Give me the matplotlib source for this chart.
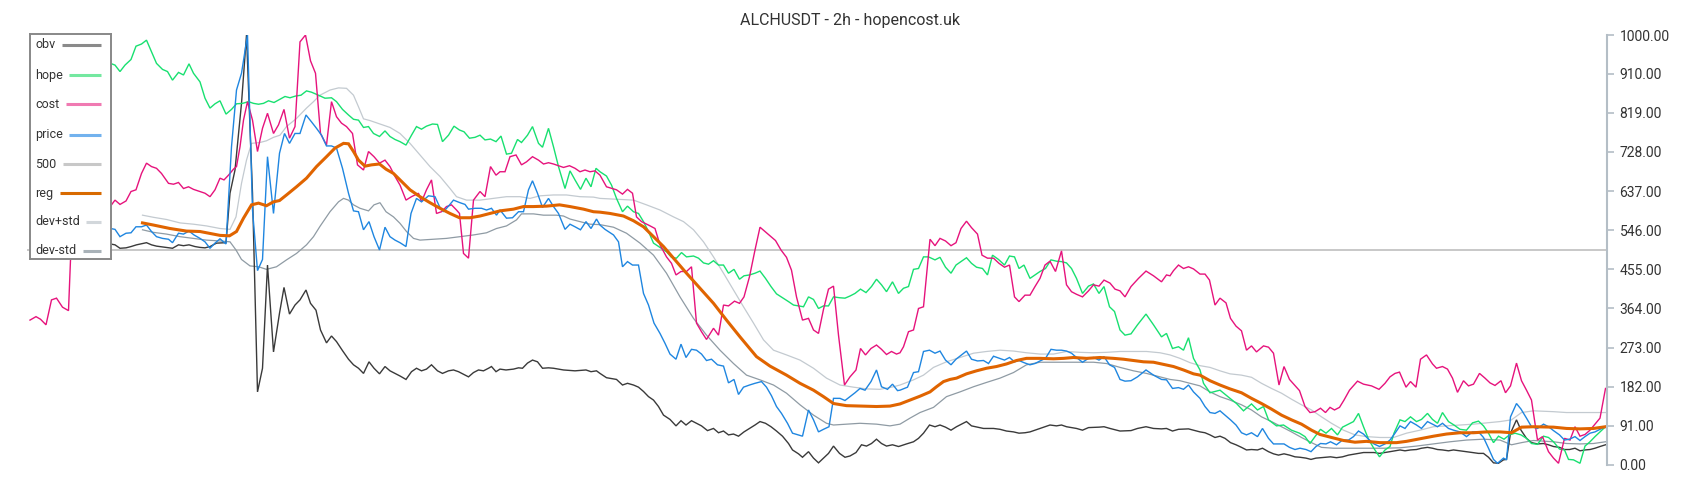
import matplotlib
matplotlib.use("Agg")
import matplotlib.pyplot as plt
import numpy as np

plt.rcParams['font.family'] = ['Roboto', 'DejaVu Sans']

title = "ALCHUSDT - 2h - hopencost.uk"
level = 500
yticks = [0, 91, 182, 273, 364, 455, 546, 637, 728, 819, 910, 1000]

# (candle, value) pairs
cost = [(0.6,337),(1.8,345),(2.7,339),(3.8,326),(4.9,384),(5.9,388),(7.1,367),(8.3,359),(8.7,477),(17.6,616),(18.6,606),(19.8,614),(20.8,636),(21.8,640),(22.9,678),(23.9,702),(24.9,694),(25.9,690),(26.9,678),(28.3,655),(29.3,653),(30.3,657),(31.3,643),(32.3,647),(33.3,641),(34.6,636),(35.6,632),(36.6,624),(37.6,640),(38.6,667),(39.4,663),(40.3,674),(41.3,688),(41.9,694),(42.6,740),(43.3,802),(44.1,845),(45.1,802),(46.1,729),(47.1,783),(48.1,818),(49.3,771),(50.3,791),(51.4,827),(52.5,760),(53.6,787),(54.6,984),(55.7,1000),(56.7,940),(57.7,911),(58.7,771),(59.9,744),(60.9,845),(61.9,810),(62.9,795),(63.9,787),(65.1,771),(66.1,698),(67.3,686),(68.3,729),(69.4,717),(70.5,702),(71.6,709),(72.6,694),(73.6,671),(74.6,651),(75.8,616),(76.9,624),(78.3,632),(78.9,612),(79.9,640),(80.9,663),(81.9,585),(82.9,589),(83.9,601),(84.9,605),(85.9,593),(86.5,585),(87.3,492),(88.3,481),(89.3,616),(90.6,636),(91.6,624),(92.7,694),(93.8,674),(94.6,682),(95.6,682),(96.6,717),(97.8,721),(98.9,698),(99.9,705),(101.1,717),(102.3,709),(103.3,700),(104.3,703),(105.3,700),(106.3,696),(107.3,692),(108.5,696),(109.6,690),(110.6,682),(111.6,686),(112.6,682),(113.6,684),(114.6,674),(115.9,647),(117.9,640),(119.1,630),(120.1,641),(121.1,632),(121.9,577),(122.9,566),(124.3,558),(125.6,550),(126.6,512),(127.9,484),(128.9,469),(129.8,442),(130.8,450),(131.9,450),(132.9,461),(133.9,330),(134.9,310),(135.9,292),(137.3,318),(138.3,302),(139.3,372),(140.3,370),(141.5,381),(142.5,376),(143.4,391),(144.5,438),(145.6,500),(146.6,553),(147.6,543),(148.6,533),(149.7,522),(150.8,500),(151.9,483),(152.9,453),(153.9,391),(155.1,337),(156.3,341),(157.3,314),(158.3,306),(159.3,362),(160.3,409),(161.3,416),(162.3,302),(163.5,186),(164.6,205),(165.8,221),(166.7,271),(167.7,256),(168.8,271),(169.9,279),(170.9,269),(171.9,257),(172.9,264),(173.9,258),(174.6,261),(175.3,275),(176.3,310),(177.3,314),(178.3,364),(179.3,368),(180.6,525),(181.6,510),(182.6,527),(183.7,521),(184.8,510),(185.8,517),(186.8,550),(187.9,567),(188.9,552),(190.1,537),(191.0,488),(192.1,481),(193.3,481),(194.4,469),(195.5,460),(196.5,465),(197.5,391),(198.4,380),(199.6,395),(200.6,395),(201.6,415),(202.6,434),(203.6,465),(204.6,474),(205.7,450),(206.9,498),(207.9,419),(208.9,403),(209.9,397),(211.1,391),(212.3,405),(213.3,419),(214.4,416),(215.4,430),(216.6,423),(217.6,409),(218.6,405),(219.6,391),(220.8,415),(222.3,434),(223.8,451),(225.3,440),(226.9,426),(227.9,442),(228.6,440),(229.3,452),(230.3,465),(231.3,457),(232.3,461),(233.3,456),(234.6,444),(235.6,444),(236.5,430),(237.6,372),(238.6,388),(239.8,377),(240.7,341),(241.8,323),(242.9,312),(243.9,267),(244.9,277),(245.9,263),(247.3,277),(248.3,274),(249.3,260),(250.4,186),(251.4,229),(252.5,199),(253.5,186),(254.5,173),(255.6,136),(256.6,122),(257.6,124),(258.7,132),(259.7,122),(260.6,134),(261.5,128),(262.5,134),(263.4,151),(264.5,174),(266.1,195),(267.3,188),(268.9,184),(270.4,176),(271.6,190),(272.6,205),(273.6,213),(274.5,216),(275.8,181),(276.7,194),(277.8,181),(278.7,246),(279.9,256),(281.1,235),(281.9,225),(283.1,229),(284.1,223),(285.1,202),(286.1,169),(287.3,196),(288.3,184),(289.3,188),(290.5,213),(291.6,202),(292.6,191),(293.6,185),(294.8,196),(295.7,168),(296.7,184),(297.9,237),(298.9,196),(299.9,174),(300.9,151),(302.1,58),(303.1,66),(304.3,31),(305.3,16),(306.3,4),(307.5,62),(308.6,58),(309.6,89),(310.6,67),(311.6,71),(312.6,81),(313.6,95),(314.6,109),(315.7,178)]

hope = [(16.7,934),(17.6,930),(18.6,915),(19.6,930),(20.8,943),(21.8,974),(22.9,979),(23.9,988),(24.9,961),(25.9,934),(27.1,920),(28.1,915),(29.1,895),(30.3,913),(31.3,907),(32.4,933),(33.3,911),(34.6,891),(35.6,853),(36.6,830),(37.6,840),(38.6,847),(39.8,816),(40.9,827),(41.9,840),(43.1,841),(44.3,845),(45.3,841),(46.3,839),(47.3,841),(48.3,847),(49.4,843),(50.5,850),(51.6,857),(52.6,854),(53.7,858),(54.8,860),(55.9,870),(56.9,867),(58.3,860),(59.6,853),(60.9,854),(61.9,845),(63.1,827),(64.3,814),(65.3,804),(66.3,802),(67.3,785),(68.3,787),(69.3,771),(70.5,764),(71.6,777),(72.6,764),(73.6,757),(74.6,752),(75.8,744),(76.9,767),(77.9,787),(78.9,781),(79.9,788),(81.1,793),(82.1,792),(83.1,752),(84.3,767),(85.4,788),(86.5,779),(87.4,775),(88.5,760),(89.6,762),(90.6,767),(91.6,756),(92.7,758),(93.8,752),(94.8,765),(95.9,723),(96.9,725),(98.1,757),(98.9,750),(100.1,767),(101.1,787),(102.3,748),(103.1,739),(104.3,783),(105.3,740),(106.3,694),(107.6,643),(108.6,684),(109.6,663),(110.7,641),(111.8,667),(112.8,647),(113.8,690),(114.6,682),(115.9,672),(116.9,651),(117.9,620),(119.1,589),(120.1,602),(121.3,589),(122.3,585),(123.3,566),(124.3,543),(125.3,516),(126.6,506),(127.9,496),(128.9,483),(129.9,481),(130.9,494),(131.9,484),(133.3,486),(134.3,481),(135.3,470),(136.3,467),(137.3,475),(138.3,465),(139.3,465),(140.3,446),(141.4,455),(142.5,432),(143.4,440),(144.5,442),(145.6,446),(146.6,451),(147.7,434),(148.8,415),(149.9,398),(151.1,389),(152.3,380),(153.3,372),(154.3,370),(155.3,368),(156.3,391),(157.3,385),(158.3,364),(159.3,370),(160.3,370),(161.3,391),(162.5,389),(163.6,388),(164.6,393),(165.6,399),(166.7,409),(167.8,401),(168.9,415),(169.9,432),(170.9,419),(171.9,403),(173.1,426),(174.3,399),(175.3,411),(176.3,415),(177.3,455),(178.3,457),(179.3,484),(180.3,484),(181.6,477),(182.6,483),(183.7,460),(184.8,446),(185.8,465),(187.9,482),(188.9,469),(189.9,460),(191.1,457),(192.1,442),(193.1,488),(194.3,478),(195.5,465),(196.5,486),(197.5,484),(198.4,457),(199.4,465),(200.6,434),(201.6,442),(202.6,450),(203.7,457),(204.8,477),(205.9,474),(206.9,473),(207.9,470),(208.9,457),(209.9,434),(211.1,399),(212.3,416),(213.3,421),(214.4,399),(215.4,415),(216.5,368),(217.5,357),(218.6,314),(219.6,302),(220.8,305),(222.1,326),(223.8,351),(225.3,326),(226.9,298),(227.9,306),(229.1,271),(230.3,275),(231.3,267),(232.3,296),(233.3,248),(234.6,221),(235.3,190),(236.6,168),(238.6,174),(240.6,155),(241.9,143),(243.3,126),(244.9,142),(246.1,128),(247.3,136),(248.3,105),(249.9,91),(251.3,93),(252.9,81),(254.5,74),(255.6,66),(256.6,50),(257.6,66),(258.7,83),(259.8,74),(260.9,85),(262.1,70),(263.1,88),(264.3,95),(265.3,101),(266.3,120),(267.3,89),(268.3,60),(269.3,40),(270.5,19),(271.6,35),(272.6,43),(273.4,74),(274.6,105),(275.6,101),(276.7,112),(277.9,101),(278.9,106),(280.1,120),(281.1,106),(282.1,97),(283.1,122),(284.3,101),(285.4,93),(286.6,83),(287.9,81),(289.1,98),(290.3,102),(291.3,91),(292.3,74),(293.3,52),(294.3,67),(295.4,60),(296.5,70),(297.6,74),(298.8,70),(299.9,62),(300.9,50),(302.1,48),(303.3,67),(304.3,64),(305.3,54),(306.5,37),(307.5,35),(308.3,13),(309.3,12),(310.6,4),(311.6,44),(312.6,54),(313.6,66),(314.6,77),(315.7,89)]

price = [(16.7,550),(17.6,548),(18.6,531),(19.8,539),(20.8,540),(21.8,554),(22.9,554),(23.9,558),(24.9,543),(25.9,531),(27.1,527),(28.3,525),(29.1,517),(30.3,539),(31.3,537),(32.4,544),(33.4,535),(34.6,527),(35.6,519),(36.6,504),(37.6,516),(38.6,526),(39.8,514),(40.9,740),(41.9,872),(42.9,911),(44.1,1000),(45.1,593),(46.1,452),(47.1,478),(48.1,717),(49.3,585),(50.5,725),(51.5,771),(52.5,748),(53.6,771),(54.6,771),(55.8,814),(56.9,798),(57.9,783),(58.9,767),(59.9,742),(60.9,742),(61.9,737),(63.1,690),(64.3,632),(65.3,591),(66.3,589),(67.3,547),(68.4,566),(69.4,531),(70.5,500),(71.6,553),(72.6,531),(73.6,523),(74.6,517),(75.8,508),(76.8,585),(77.9,620),(78.9,612),(80.3,626),(81.6,624),(82.5,601),(83.3,589),(84.3,602),(85.3,616),(86.6,610),(87.6,606),(88.3,595),(89.6,597),(90.9,597),(91.9,593),(92.9,597),(93.9,581),(94.6,593),(95.9,574),(97.1,575),(98.3,589),(99.3,589),(100.3,640),(101.1,661),(102.1,632),(103.1,599),(104.3,620),(105.3,601),(106.3,585),(107.6,548),(108.6,560),(109.6,554),(110.7,547),(111.8,566),(112.8,550),(113.9,572),(114.6,558),(115.6,548),(117.3,535),(118.3,519),(119.1,461),(120.1,473),(121.1,465),(122.3,465),(123.3,399),(124.3,372),(125.4,330),(126.6,306),(127.6,283),(128.6,258),(129.8,246),(130.8,281),(131.8,250),(132.9,269),(133.9,267),(134.9,258),(135.9,243),(136.9,246),(138.1,233),(139.3,230),(140.3,191),(141.4,199),(142.3,164),(143.3,181),(144.5,186),(145.6,190),(146.9,194),(147.9,181),(148.9,161),(149.9,136),(150.9,120),(152.1,97),(153.1,74),(155.1,67),(156.3,128),(157.3,105),(158.3,77),(159.3,83),(160.4,89),(161.3,155),(162.6,155),(163.6,150),(164.6,159),(165.6,168),(166.6,178),(167.6,174),(168.8,194),(169.9,221),(170.9,182),(172.1,176),(173.1,188),(174.1,173),(174.6,174),(176.1,181),(177.3,215),(178.3,217),(179.3,264),(180.5,267),(181.6,260),(182.6,265),(183.7,244),(184.8,233),(185.8,246),(187.9,265),(188.9,246),(190.1,242),(191.3,243),(192.3,236),(193.3,253),(194.5,248),(195.5,244),(196.5,250),(197.5,240),(198.4,243),(199.4,238),(200.6,233),(201.6,236),(202.6,242),(203.7,248),(204.8,269),(205.9,267),(206.9,267),(207.9,265),(208.9,260),(209.9,250),(211.1,239),(212.3,248),(213.3,250),(214.4,244),(215.4,252),(216.5,233),(217.5,227),(218.6,199),(219.6,195),(220.8,196),(222.1,205),(223.8,221),(225.3,209),(226.9,199),(227.9,198),(229.1,178),(230.3,180),(231.3,176),(232.3,186),(233.3,170),(234.6,155),(235.6,136),(236.6,122),(237.6,120),(238.6,126),(239.6,116),(240.7,105),(241.8,93),(242.9,75),(243.9,70),(244.9,75),(246.1,66),(247.1,85),(248.3,62),(249.3,49),(250.3,49),(251.4,49),(252.5,41),(253.6,36),(254.6,39),(255.8,36),(256.8,31),(257.8,43),(258.7,50),(259.8,49),(260.7,54),(261.9,47),(263.1,58),(264.3,58),(265.3,66),(266.3,79),(267.3,72),(268.3,60),(269.4,49),(270.5,43),(271.6,49),(272.6,58),(273.6,74),(274.6,91),(275.6,85),(276.7,101),(277.9,93),(278.9,85),(280.1,101),(281.1,95),(282.1,89),(283.1,97),(284.3,85),(285.3,81),(286.6,77),(287.9,66),(289.1,77),(290.3,77),(291.3,64),(292.3,39),(293.3,13),(294.1,4),(295.3,16),(295.9,12),(296.7,112),(297.9,143),(298.8,130),(299.9,109),(300.9,89),(302.1,85),(303.3,95),(304.3,89),(305.3,80),(306.5,70),(307.5,58),(308.5,60),(309.6,66),(310.6,57),(311.6,66),(312.6,74),(313.6,77),(314.6,83),(315.7,89)]

obv = [(16.7,514),(17.6,512),(18.6,504),(19.8,505),(20.8,508),(21.9,512),(23.9,517),(24.9,512),(25.9,509),(27.9,506),(29.1,504),(30.3,512),(31.3,510),(32.4,512),(33.6,508),(34.6,506),(35.6,505),(36.6,508),(37.9,516),(39.8,517),(40.6,632),(41.6,686),(42.9,841),(43.9,1000),(45.1,632),(46.1,170),(47.1,225),(48.1,465),(49.3,263),(50.5,353),(51.4,413),(52.5,351),(53.6,372),(54.6,384),(55.8,407),(56.7,376),(57.8,360),(58.7,314),(59.9,284),(60.9,300),(61.9,287),(63.1,266),(64.3,246),(65.3,233),(66.3,225),(67.3,213),(68.4,240),(69.4,225),(70.5,212),(71.6,229),(72.6,219),(73.6,213),(74.6,207),(75.8,199),(76.9,217),(77.9,225),(78.9,219),(79.9,223),(80.9,233),(82.1,219),(83.1,213),(84.3,219),(85.3,221),(86.3,217),(87.3,211),(88.3,205),(89.3,215),(90.3,221),(91.3,219),(92.3,225),(92.9,229),(93.8,217),(94.6,223),(95.8,221),(97.3,223),(98.3,226),(99.1,225),(100.1,237),(101.1,244),(102.1,240),(103.1,225),(104.3,226),(105.3,225),(107.3,221),(109.6,219),(111.8,221),(112.8,217),(113.9,219),(114.6,213),(115.9,203),(117.9,199),(119.1,186),(120.1,190),(121.3,186),(122.3,181),(123.3,171),(124.3,159),(125.3,151),(126.3,136),(127.3,116),(128.6,106),(129.8,91),(130.8,103),(131.8,93),(132.9,103),(133.9,97),(134.9,91),(136.1,80),(137.3,85),(138.3,75),(139.3,79),(140.3,70),(141.3,72),(142.3,67),(143.4,77),(144.5,85),(145.6,93),(146.6,101),(147.7,97),(148.8,89),(149.9,79),(151.1,67),(152.3,50),(153.1,35),(154.3,26),(155.1,18),(156.3,31),(157.3,16),(158.3,5),(159.3,16),(160.3,27),(161.3,44),(162.5,27),(163.6,18),(164.6,21),(165.8,29),(166.9,47),(167.9,44),(168.9,50),(169.9,60),(170.9,50),(171.9,44),(173.1,47),(174.3,43),(174.6,44),(175.9,49),(177.3,54),(178.3,62),(179.3,74),(180.5,93),(181.6,89),(182.6,93),(183.7,88),(184.8,81),(185.9,89),(187.9,101),(188.9,91),(190.1,88),(191.3,85),(193.3,85),(194.6,83),(195.9,79),(197.3,77),(198.4,74),(199.6,75),(200.6,77),(202.6,85),(204.6,93),(205.9,91),(206.9,93),(207.9,89),(209.9,85),(211.1,81),(212.3,87),(214.4,88),(215.4,89),(216.6,85),(218.6,79),(220.8,80),(222.1,85),(223.8,89),(225.3,85),(226.9,84),(227.9,85),(229.1,79),(230.3,83),(232.3,84),(233.3,81),(234.6,77),(235.6,75),(236.6,70),(237.6,64),(238.6,67),(239.6,62),(240.7,52),(241.8,47),(242.9,41),(243.9,35),(244.9,36),(246.1,35),(247.1,39),(248.3,31),(249.3,26),(250.3,23),(251.4,26),(252.5,23),(253.6,19),(254.6,18),(255.8,16),(256.8,13),(257.8,16),(258.7,17),(259.8,18),(260.7,19),(261.9,17),(263.1,19),(264.3,23),(265.3,25),(266.3,27),(267.3,29),(268.3,29),(269.4,29),(270.5,27),(271.6,29),(272.6,31),(273.6,33),(274.6,35),(275.6,33),(276.7,35),(277.9,36),(278.9,39),(280.1,41),(281.1,39),(282.1,36),(283.1,35),(284.3,33),(285.3,35),(286.6,33),(287.9,31),(289.1,29),(290.3,27),(291.3,27),(292.3,18),(293.3,5),(294.3,4),(295.3,12),(295.9,13),(296.7,74),(297.9,105),(298.8,81),(299.9,62),(300.9,52),(302.1,49),(303.3,50),(304.3,47),(305.3,43),(306.5,41),(307.5,36),(308.5,36),(309.6,39),(310.6,33),(311.6,35),(312.6,36),(313.6,39),(314.6,43),(315.7,47)]

reg = [(23.1,563),(25.3,558),(28.6,550),(31.9,544),(34.6,543),(37.3,537),(38.6,534),(40.5,533),(41.9,543),(43.3,574),(44.9,605),(46.3,609),(47.9,603),(49.3,612),(50.5,615),(51.9,628),(53.9,647),(55.9,667),(57.9,694),(59.9,717),(61.6,737),(63.3,748),(64.3,747),(65.3,729),(66.3,709),(67.6,695),(68.9,698),(70.5,700),(71.8,688),(73.3,678),(74.6,663),(76.6,640),(78.6,624),(80.6,610),(82.6,597),(84.6,585),(86.5,575),(88.6,575),(90.6,579),(92.6,585),(94.6,591),(97.3,595),(99.3,601),(101.3,601),(103.9,602),(106.5,605),(108.6,601),(111.3,595),(113.3,589),(114.6,588),(116.6,585),(119.3,579),(121.3,568),(123.3,554),(125.3,531),(127.3,508),(129.3,481),(131.9,446),(134.6,411),(137.3,376),(139.9,337),(142.6,298),(145.9,252),(148.6,230),(151.9,209),(154.6,190),(157.3,174),(159.3,159),(161.3,143),(163.9,138),(166.6,137),(169.9,136),(172.6,137),(174.6,142),(176.6,151),(178.6,160),(180.6,170),(181.9,182),(183.3,194),(184.6,199),(185.9,202),(187.9,212),(189.9,219),(191.9,225),(193.9,229),(195.9,235),(197.9,243),(199.9,248),(202.6,248),(205.3,247),(207.3,248),(209.3,250),(211.9,248),(214.6,250),(217.3,248),(219.3,246),(221.3,243),(223.3,240),(225.3,239),(227.3,234),(229.3,229),(231.3,221),(233.3,212),(234.6,209),(236.6,196),(238.6,186),(240.6,177),(242.9,168),(244.9,155),(246.9,143),(248.9,130),(250.9,116),(252.9,105),(254.9,95),(256.9,81),(258.6,71),(260.9,64),(263.3,57),(265.6,53),(267.9,55),(270.6,52),(273.9,52),(275.9,55),(278.6,61),(281.3,67),(283.9,72),(286.6,75),(289.3,75),(291.9,77),(294.6,77),(296.9,75),(298.9,88),(301.3,89),(305.3,88),(307.9,85),(310.6,84),(313.3,85),(315.7,89)]

dev_plus = [(23.1,581),(25.3,576),(27.9,571),(30.6,563),(33.3,560),(35.9,556),(38.6,550),(40.6,548),(41.8,577),(42.9,655),(43.9,709),(44.9,748),(46.6,750),(47.9,754),(49.3,762),(50.6,767),(51.9,787),(53.9,806),(55.9,830),(57.3,845),(58.6,860),(60.6,872),(62.3,877),(63.9,876),(65.3,860),(66.3,833),(67.3,805),(68.6,801),(70.6,793),(72.6,785),(74.6,771),(76.6,748),(78.6,721),(80.6,694),(82.6,671),(84.6,643),(85.9,624),(87.9,616),(90.6,616),(93.3,620),(95.9,624),(98.6,624),(100.6,620),(102.6,626),(105.3,628),(107.9,628),(110.6,624),(113.3,623),(114.6,620),(117.9,618),(121.3,616),(123.9,605),(126.6,593),(129.3,577),(131.3,566),(133.3,547),(135.3,519),(137.3,484),(139.3,446),(141.3,407),(143.3,368),(145.3,330),(147.3,291),(149.3,267),(151.9,256),(154.6,244),(157.3,225),(159.9,202),(162.6,186),(165.3,181),(167.9,177),(170.6,176),(173.3,182),(174.6,186),(177.3,198),(179.3,209),(181.3,227),(183.9,240),(186.6,250),(189.3,260),(191.9,264),(194.6,267),(197.3,265),(199.9,261),(202.6,258),(205.3,258),(207.9,264),(210.6,262),(213.3,261),(215.9,262),(218.6,264),(221.3,264),(223.9,264),(226.6,261),(228.6,256),(230.6,248),(232.6,238),(234.6,231),(236.6,227),(238.6,219),(240.6,212),(242.9,209),(244.9,204),(246.9,190),(248.9,178),(250.9,167),(252.9,153),(254.9,140),(256.9,128),(258.9,112),(260.9,97),(263.3,81),(265.6,70),(267.9,66),(270.6,64),(273.3,64),(275.9,74),(278.6,81),(281.3,89),(283.9,91),(286.6,93),(289.3,95),(291.9,98),(294.6,101),(296.9,105),(298.9,122),(301.3,126),(305.3,124),(307.9,122),(310.6,122),(313.3,122),(315.7,122)]

dev_minus = [(23.1,547),(25.3,541),(27.9,537),(30.6,531),(33.3,527),(35.9,523),(38.6,521),(40.6,519),(41.8,500),(42.9,478),(44.6,463),(46.3,461),(47.9,455),(49.9,461),(51.9,477),(53.9,492),(55.9,512),(57.3,531),(58.6,555),(60.6,589),(62.3,612),(63.3,620),(64.3,616),(65.3,605),(66.6,597),(68.3,591),(69.4,605),(70.6,610),(71.8,589),(73.3,577),(74.6,562),(75.9,543),(77.3,527),(78.6,523),(81.3,525),(83.9,527),(86.6,531),(89.3,535),(91.9,540),(93.9,550),(95.9,556),(97.9,570),(98.9,584),(101.3,584),(103.3,581),(105.9,581),(107.3,579),(108.6,572),(110.6,566),(112.6,560),(114.6,559),(117.3,553),(119.9,539),(122.6,516),(125.3,488),(127.9,446),(130.6,391),(133.3,341),(135.9,302),(138.6,267),(141.3,236),(143.9,209),(146.6,198),(149.3,186),(151.9,167),(154.6,140),(157.3,116),(159.9,97),(161.3,93),(163.9,95),(166.6,97),(169.9,95),(172.6,91),(174.6,95),(176.6,109),(178.6,122),(181.3,134),(183.9,159),(186.6,170),(189.3,182),(191.9,192),(194.6,202),(197.3,215),(199.9,233),(202.6,239),(205.3,239),(210.6,239),(213.3,239),(215.9,236),(218.6,227),(221.3,219),(223.9,213),(226.6,205),(228.6,199),(230.6,196),(232.6,190),(234.6,184),(236.6,170),(238.6,159),(240.6,151),(242.9,140),(244.9,128),(246.9,112),(248.9,101),(250.9,89),(252.9,77),(254.9,64),(256.9,52),(258.9,41),(261.3,39),(264.6,39),(267.9,39),(271.3,39),(274.6,40),(277.9,44),(281.3,49),(284.6,54),(287.9,58),(291.3,60),(294.6,58),(296.9,47),(298.9,52),(301.3,57),(305.3,54),(307.9,50),(310.6,49),(313.3,50),(315.7,54)]

fig = plt.figure(figsize=(17, 5), dpi=100)
ax = fig.add_axes([27 / 1700, 35 / 500, 1580 / 1700, 430 / 500])

ax.axhline(level, color='#c8c8c8', lw=1.4, zorder=1)

series = [
    (dev_plus, '#c3cad0', 0.9),
    (dev_minus, '#8f9ba4', 0.9),
    (obv, '#3a3a3a', 1.0),
    (hope, '#18e070', 1.0),
    (cost, '#e6137c', 1.0),
    (price, '#1f86e0', 1.0),
    (reg, '#e06400', 2.2),
]
for data, col, lw in series:
    t, v = np.array(data).T
    ax.plot(t, v, color=col, lw=lw, solid_joinstyle='miter')

ax.set_xlim(0, 316)
ax.set_ylim(0, 1000)
ax.set_xticks([])
ax.yaxis.tick_right()
ax.set_yticks(yticks)
ax.set_yticklabels([f"{v:.2f}" for v in yticks])
ax.tick_params(axis='y', colors='#b4bec6', labelcolor='#333333', labelsize=10,
               length=5, width=1.2, pad=4)
for side in ['left', 'top', 'bottom']:
    ax.spines[side].set_visible(False)
ax.spines['right'].set_color('#b4bec6')
ax.spines['right'].set_linewidth(1.5)
ax.patch.set_alpha(0)

fig.text(0.5, 1 - 21 / 500, title, ha='center', va='center', fontsize=11.5, color='#333333')

# legend box drawn by hand (text left, swatch right-aligned)
lax = fig.add_axes([30 / 1700, (500 - 259) / 500, 81 / 1700, 225 / 500])
lax.set_xlim(30, 111)
lax.set_ylim(259, 34)
lax.set_xticks([])
lax.set_yticks([])
lax.set_facecolor('white')
for s in lax.spines.values():
    s.set_color('#888888')
    s.set_linewidth(1.4)

leg_names = ['obv', 'hope', 'cost', 'price', '500', 'reg', 'dev+std', 'dev-std']
leg_colors = ['#8a8a8a', '#74e8a0', '#f07ab2', '#72b2ee', '#c8c8c8', '#d86a00', '#d2d7db', '#a9b2b8']
leg_rows = [44.5, 75, 104, 134.5, 164, 193, 221.7, 250.7]

fig.canvas.draw()
renderer = fig.canvas.get_renderer()
inv = lax.transData.inverted()
for name, col, y in zip(leg_names, leg_colors, leg_rows):
    txt = lax.text(35, y, name, ha='left', va='center', fontsize=9, color='#333333')
    bb = txt.get_window_extent(renderer)
    x_end = inv.transform((bb.x1, bb.y0))[0]
    lax.plot([x_end + 6.5, 100.7], [y, y], color=col, lw=2.2, solid_capstyle='butt')

fig.savefig("out.png", dpi=100)
